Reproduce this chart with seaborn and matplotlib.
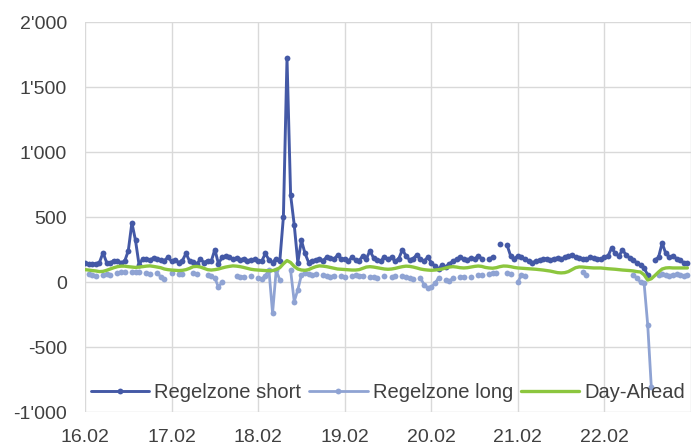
import numpy as np
import pandas as pd
import matplotlib
matplotlib.use("Agg")
import matplotlib.pyplot as plt
from matplotlib.lines import Line2D
from matplotlib.ticker import FuncFormatter
import seaborn as sns

N = np.nan

# x tick labels (days)
day_labels = ["16.02", "17.02", "18.02", "19.02", "20.02", "21.02", "22.02"]

# hourly values, one row per day (16.02 ... 22.02)
short = [
    145, 140, 142, 138, 150, 225, 150, 148, 165, 160, 150, 160, 240, 455, 320, 130, 180, 175, 170, 185, 175, 170, 165, 190,
    160, 170, 150, 165, 220, 160, 155, 140, 175, 150, 165, 160, 250, 140, 190, 200, 190, 175, 185, 170, 180, 165, 170, 175,
    165, 160, 220, 170, 150, 180, 160, 500, 1720, 670, 440, 150, 320, 220, 150, 165, 170, 180, 165, 190, 185, 175, 205, 180,
    175, 160, 190, 170, 165, 200, 180, 240, 185, 170, 160, 195, 175, 190, 160, 180, 250, 200, 170, 180, 210, 175, 160, 190,
    150, 120, 100, 130, 115, 140, 160, 175, 190, 180, 170, 185, 175, 200, 180, N, 175, 192, N, 290, N, 285, 200, 180,
    200, 190, 175, 160, 150, 160, 170, 175, 180, 170, 180, 185, 175, 190, 200, 210, 190, 185, 180, 175, 190, 185, 180, 175,
    190, 200, 262, 220, 200, 246, 210, 185, 170, 146, 130, 108, 54, N, 170, 190, 300, 220, 192, 200, 180, 170, 146, 150,
]

long_ = [
    N, 60, 54, 50, N, 55, 60, 54, N, 70, 75, 77, N, 80, 77, 80, N, 70, 65, N, 70, 40, 20, N,
    70, N, 65, 60, N, N, 70, 60, N, N, 55, 45, 30, -40, 0, N, N, N, 45, 38, 40, N, 50, N,
    30, 20, 50, 90, -240, 90, 15, N, N, 90, -150, -60, 55, 70, 65, 55, 60, N, 55, 50, 40, 50, N, 45,
    40, N, 45, 55, 50, 50, N, 40, 35, 30, N, 45, N, 40, 45, N, 50, 35, 30, 25, N, 30, -20, -45,
    -40, -10, 30, N, 15, 5, 30, N, 35, 40, N, 40, N, 55, 55, N, 60, 70, 70, N, N, 70, 65, N,
    0, 55, 50, N, N, N, N, N, N, N, N, N, N, N, N, N, N, N, 75, 55, N, N, N, N,
    N, N, N, N, N, N, N, N, 54, 30, 0, -10, -330, -810, N, 55, 60, 55, 50, 55, 60, 55, 50, 55,
]

day_ahead = [
    95, 92, 88, 85, 80, 82, 90, 100, 110, 118, 122, 122, 118, 115, 112, 115, 118, 122, 124, 120, 115, 110, 100, 95,
    92, 90, 88, 90, 95, 105, 118, 120, 115, 105, 95, 92, 95, 100, 108, 115, 120, 124, 122, 118, 112, 105, 98, 94,
    92, 90, 88, 87, 88, 95, 110, 140, 165, 150, 120, 100, 92, 90, 95, 108, 118, 124, 122, 118, 112, 106, 100, 98,
    96, 94, 92, 92, 95, 105, 115, 118, 115, 110, 105, 100, 98, 100, 105, 112, 118, 122, 120, 115, 108, 100, 95, 92,
    90, 92, 95, 100, 108, 115, 118, 115, 110, 108, 110, 115, 120, 123, 120, 112, 108, 106, 110, 118, 123, 122, 118, 112,
    108, 106, 104, 102, 100, 98, 95, 92, 88, 84, 78, 72, 70, 72, 80, 95, 110, 116, 115, 112, 110, 108, 108, 108,
    105, 102, 100, 98, 95, 92, 90, 88, 85, 80, 77, 55, 15, 25, 50, 77, 100, 108, 110, 108, 108, 108, 108, 108,
]

series_names = ["Regelzone short", "Regelzone long", "Day-Ahead"]
colors = ["#4459A6", "#8FA3D3", "#8CC63E"]

times = pd.date_range("2024-02-16", periods=len(short), freq="h")
df = pd.DataFrame({"t": times, series_names[0]: short,
                   series_names[1]: long_, series_names[2]: day_ahead})

sns.set_theme(style="whitegrid")
plt.rcParams["font.family"] = ["Liberation Sans", "DejaVu Sans"]

fig = plt.figure(figsize=(6.92, 4.48), dpi=100)
ax = fig.add_axes([85 / 692, 36 / 448, 606 / 692, 390 / 448])

MS = 4.2
styles = [dict(marker=True, lw=2.1),
          dict(marker=True, lw=2.0),
          dict(marker=False, lw=2.4)]

for name, color, st in zip(series_names, colors, styles):
    d = df[["t", name]].copy()
    d["seg"] = d[name].isna().cumsum()
    d = d.dropna()
    kw = dict(lw=st["lw"])
    if st["marker"]:
        kw.update(marker="o", markersize=MS, markeredgewidth=0)
    sns.lineplot(data=d, x="t", y=name, units="seg", estimator=None,
                 color=color, ax=ax, legend=False, **kw)

ax.set_xlim(times[0], times[0] + pd.Timedelta(days=7))
ax.set_ylim(-1000, 2000)
ax.set_yticks(range(-1000, 2001, 500))
ax.yaxis.set_major_formatter(FuncFormatter(lambda v, p: f"{int(v):,}".replace(",", "'")))
tick_pos = [times[0] + pd.Timedelta(days=i) for i in range(len(day_labels))]
ax.set_xticks(tick_pos + [times[0] + pd.Timedelta(days=7)])
ax.set_xticklabels(day_labels + [""])
ax.set_xlabel("")
ax.set_ylabel("")
ax.grid(True, color="#D9D9D9", lw=1)
for s in ax.spines.values():
    s.set_visible(False)
ax.tick_params(axis="both", labelsize=14, colors="#404040", length=0)
ax.tick_params(axis="x", pad=12)
ax.tick_params(axis="y", pad=13)

handles = [
    Line2D([], [], color=colors[0], lw=2.1, marker="o", markersize=MS, markeredgewidth=0),
    Line2D([], [], color=colors[1], lw=2.0, marker="o", markersize=MS, markeredgewidth=0),
    Line2D([], [], color=colors[2], lw=2.4),
]
leg = ax.legend(handles, series_names, loc="lower center", bbox_to_anchor=(0.5, 0.005),
                ncol=3, frameon=False, fontsize=14.5, handlelength=2.9,
                columnspacing=0.4, handletextpad=0.25, borderaxespad=0)
for t in leg.get_texts():
    t.set_color("#404040")

fig.savefig("out.png", dpi=100)
